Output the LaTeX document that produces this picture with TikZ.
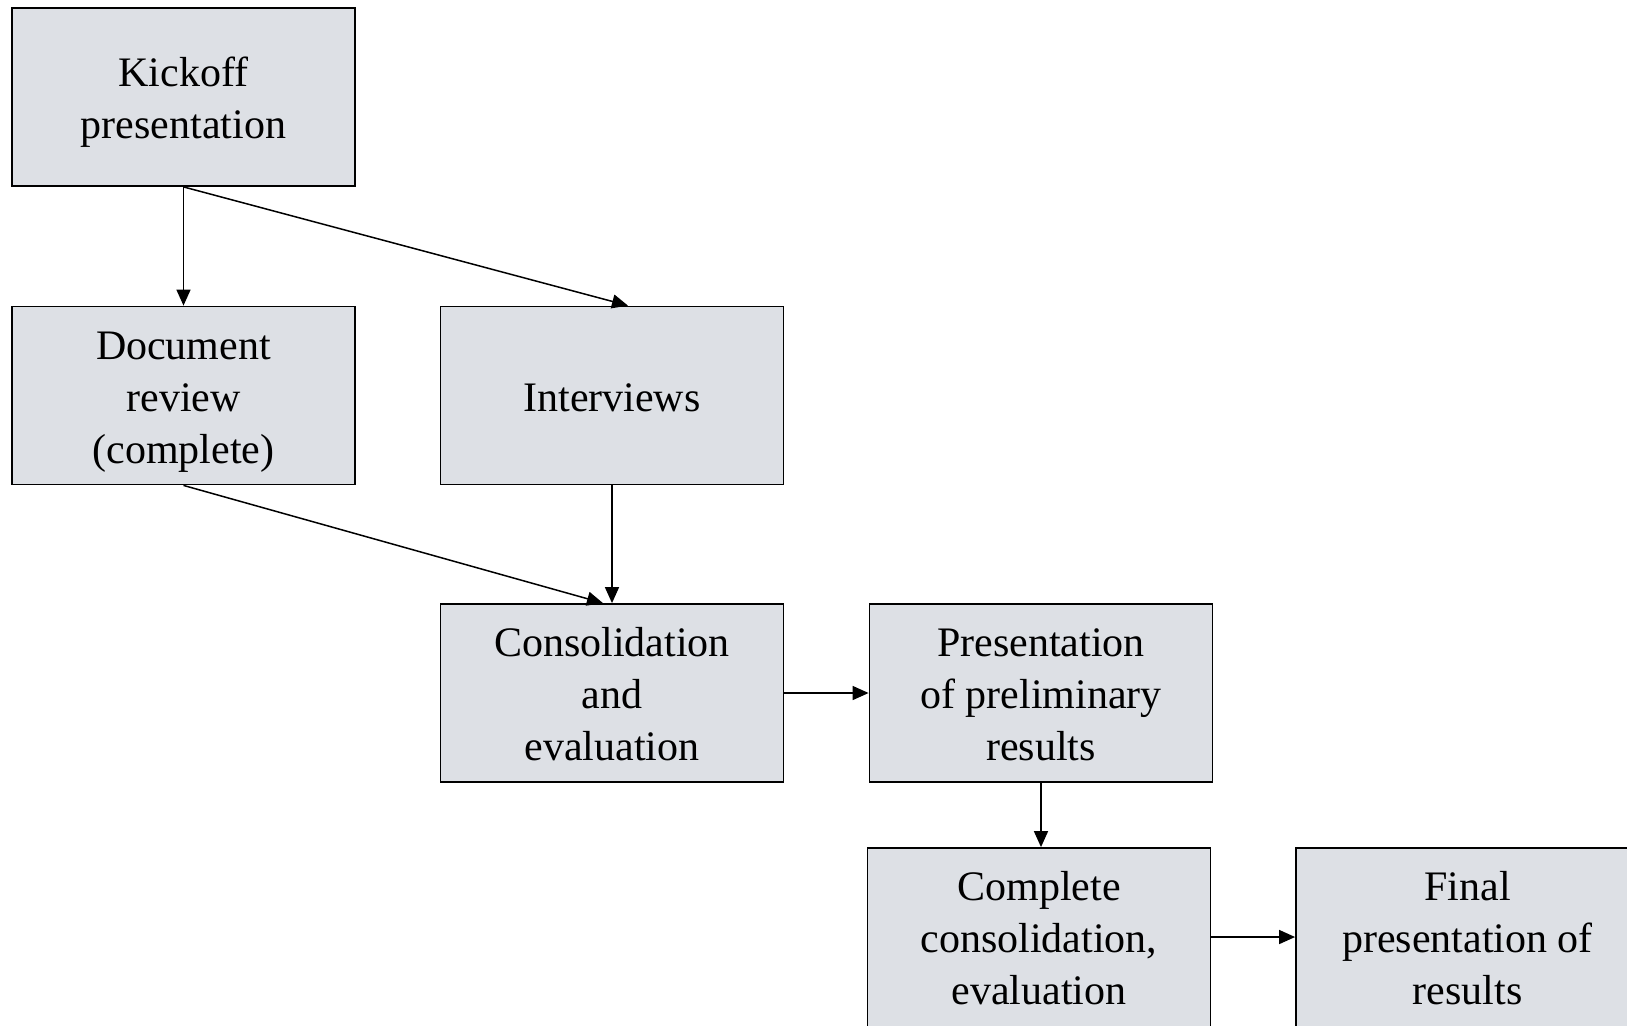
\documentclass[tikz,border=0pt]{standalone}
\usepackage{fontspec}
\setmainfont{Liberation Serif}
\usetikzlibrary{arrows.meta}
\definecolor{boxfill}{RGB}{221,224,229}
\begin{document}
\begin{tikzpicture}[x=0.5pt,y=-0.5pt,
  stepbox/.style={draw=black, line width=0.9pt, fill=boxfill,
    minimum width=171.5pt, minimum height=89pt, inner sep=0pt},
  % tall boxes run past the lower edge; their text keeps the usual place
  tallbox/.style={stepbox, minimum height=95pt},
  steptext/.style={align=center, inner sep=0pt, yshift=-2.6pt,
    font=\fontsize{21pt}{26pt}\selectfont},
  flow/.style={line width=0.75pt, -{Triangle[length=8pt,width=7pt]}}]
\useasboundingbox (0,0) rectangle (1627,1025);
\clip (0,0) rectangle (1627,1025);
% process steps
\node[stepbox, label={[steptext]center:{\strut Kickoff\\\strut presentation}}] (kick) at (183.5,97) {};
\node[stepbox, label={[steptext]center:{\strut Document\\\strut review\\\strut (complete)}}] (doc) at (183.5,395.5) {};
\node[stepbox, label={[steptext]center:{\strut Interviews}}] (int) at (612,395.5) {};
\node[stepbox, label={[steptext]center:{\strut Consolidation\\\strut and\\\strut evaluation}}] (cons) at (612,693) {};
\node[stepbox, label={[steptext]center:{\strut Presentation\\\strut of preliminary\\\strut results}}] (pres) at (1041,693) {};
\node[tallbox, label={[steptext, yshift=3pt]center:{\strut Complete\\\strut consolidation,\\\strut evaluation}}] (comp) at (1039,943) {};
\node[tallbox, label={[steptext, yshift=3pt]center:{\strut Final\\\strut presentation of\\\strut results}}] (final) at (1467.5,943) {};
% connectors
\draw[flow] (kick.south) -- (doc.north);
\draw[flow] (kick.south) -- ([xshift=8pt]int.north);
\draw[flow] (doc.south) -- ([xshift=-4.5pt]cons.north);
\draw[flow] (int.south) -- (cons.north);
\draw[flow] (cons.east) -- (pres.west);
\draw[flow] (pres.south) -- (pres.south |- comp.north);
\draw[flow] ([yshift=3pt]comp.east) -- ([yshift=3pt]final.west);
\end{tikzpicture}
\end{document}
